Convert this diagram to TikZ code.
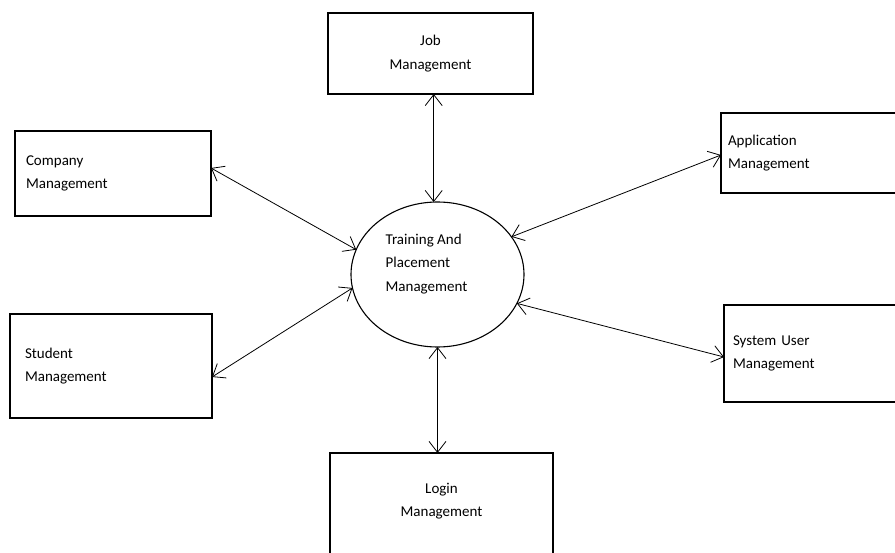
\documentclass[tikz,border=0pt]{standalone}
\usepackage{fontspec}
\setmainfont{Carlito}
\usepackage{tikz}
\usetikzlibrary{arrows.meta,shapes.geometric,positioning}
\tikzset{
    %Define standard arrow tip
    >={Straight Barb[length=11pt,width=17pt]},
    %Define style for boxes
    modbox/.style={
           rectangle,
           draw=black, line width=1.1pt,
           outer sep=0pt,
           font=\fontsize{15}{23.5}\selectfont
           },
    sidebox/.style={
           modbox,
           align=left
           },
    hub/.style={
           ellipse,
           draw=black, line width=1.1pt,
           outer sep=0pt,
           minimum width=173pt,
           minimum height=145pt
           },
    hubtext/.style={
           align=left,
           font=\fontsize{15}{23.5}\selectfont
           },
    % Define arrow style
    link/.style={
           <->,
           line width=0.8pt}
}
\begin{document}
\begin{tikzpicture}[x=1pt,y=-1pt]
\useasboundingbox (0,0) rectangle (895,553);
\node[hub](tpm) at (437.5,274.5){};
\node[hubtext](tpmtext) at (426.5,264){Training And\\Placement\\Management};
\node[modbox, align=center, minimum width=205pt, minimum height=81pt](job) at (430.5,53.5){Job\\Management};
\node[sidebox, minimum width=196pt, minimum height=85pt, inner xsep=11pt, text width=174pt](comp) at (113,173.5){Company\\Management};
\node[sidebox, minimum width=202pt, minimum height=104pt, inner xsep=15pt, text width=172pt](stud) at (111,366){Student\\Management};
\node[sidebox, minimum width=239pt, minimum height=80pt, inner xsep=7pt, text width=225pt](app) at (840.5,153){Application\\Management};
\node[sidebox, minimum width=239pt, minimum height=97pt, inner xsep=9pt, text width=221pt](sysu) at (843.5,353.5){System User\\Management};
\node[modbox, align=center, anchor=north, minimum width=223pt, inner ysep=30pt, text depth=45pt](login) at (441.5,453){Login\\Management};
 \path[link]
    (tpm.93) edge (tpm.93 |- job.south)
    (tpm.south) edge (tpm.south |- login.north)
    (tpm.163) edge ([yshift=5.5pt]comp.east)
    (tpm.189) edge ([yshift=-11pt]stud.east)
    (tpm.27) edge ([yshift=-2pt]app.west)
    (tpm.340) edge ([yshift=-3.5pt]sysu.west);
\end{tikzpicture}
\end{document}
